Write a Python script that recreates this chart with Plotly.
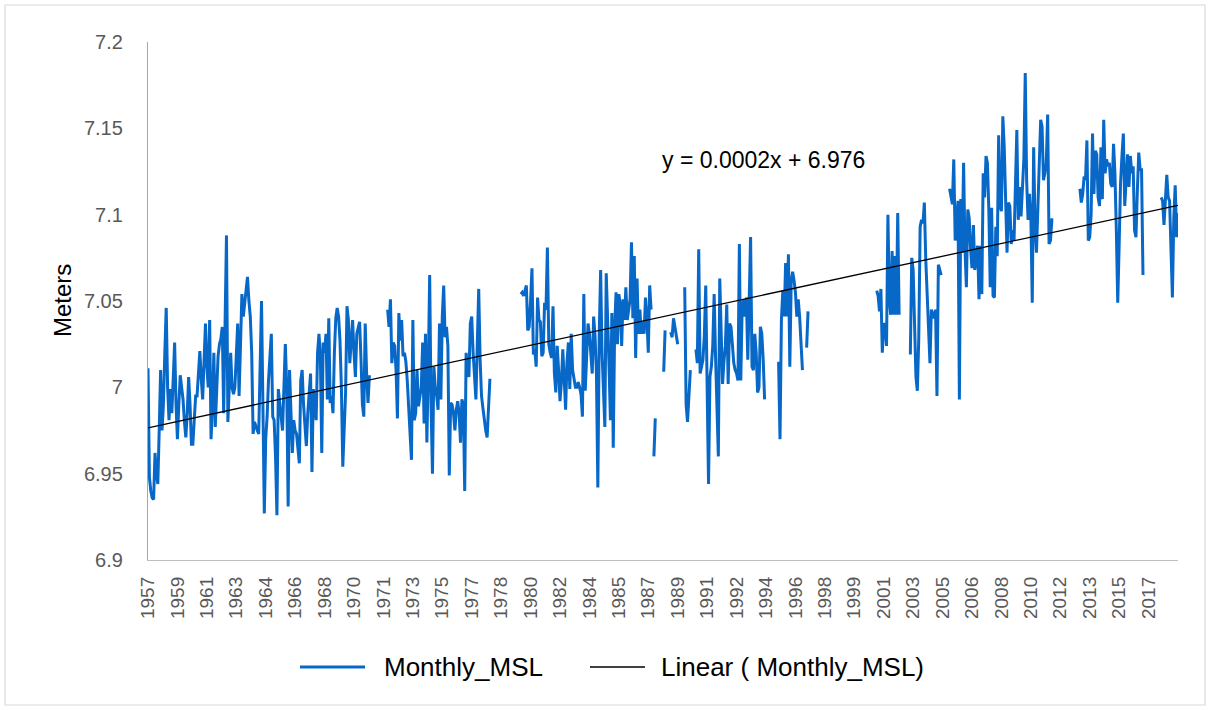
import numpy as np
import plotly.graph_objects as go

N = None
# Monthly mean sea level (m), one value per month starting Oct 1957; None = missing month
msl_a = [  # months 0-119
    7.011, 6.948, 6.940, 6.936, 6.935, 6.962, 6.950, 6.944, 6.975, 7.010, 6.975, 6.990,
    7.020, 7.046, 7.000, 6.981, 6.999, 6.985, 7.005, 7.026, 6.990, 6.970, 6.990, 7.007,
    7.000, 6.993, 6.980, 6.971, 6.985, 7.006, 6.990, 6.967, 6.967, 6.980, 6.995, 6.995,
    7.010, 7.021, 7.005, 6.993, 7.015, 7.037, 7.012, 7.000, 7.039, 6.970, 6.990, 7.020,
    6.977, 7.000, 7.018, 7.025, 7.028, 7.035, 6.985, 7.037, 7.088, 6.980, 7.000, 7.020,
    7.000, 6.996, 7.000, 7.020, 7.037, 6.995, 7.030, 7.054, 7.041, 7.048, 7.056, 7.064,
    7.050, 7.041, 7.020, 6.973, 6.980, 6.977, 6.975, 6.973, 7.010, 7.050, 6.990, 6.927,
    6.970, 6.983, 7.004, 7.020, 7.031, 6.983, 6.981, 6.960, 6.926, 6.999, 6.990, 6.981,
    6.975, 7.000, 7.025, 7.000, 6.931, 7.010, 6.985, 6.962, 6.981, 6.975, 6.973, 6.965,
    6.956, 7.004, 7.010, 6.990, 6.975, 6.966, 6.985, 7.000, 7.008, 6.951, 6.999, 6.990,
]
msl_b = [  # months 120-239
    6.981, 7.020, 7.031, 7.018, 6.962, 7.026, 7.020, 7.031, 6.993, 7.040, 6.991, 6.995,
    6.985, 7.020, 7.040, 7.046, 7.041, 7.027, 7.000, 6.954, 6.980, 6.997, 7.047, 7.039,
    7.014, 7.025, 7.039, 7.020, 7.006, 7.031, 7.035, 7.038, 7.016, 6.990, 6.983, 7.037,
    7.008, 6.991, 7.007, N, N, N, N, N, N, N, N, N,
    N, N, N, 7.045, 7.035, 7.051, 7.014, 7.026, 7.024, 7.010, 6.982, 7.043,
    7.027, 7.039, 7.018, 7.020, 7.015, 7.004, 6.990, 6.975, 6.958, 7.039, 6.981, 6.985,
    7.010, 6.989, 6.995, 7.000, 7.026, 6.979, 7.031, 6.968, 7.010, 7.065, 6.989, 6.950,
    7.012, 7.000, 6.995, 6.987, 7.037, 6.993, 7.041, 7.059, 7.029, 7.035, 7.024, 6.949,
    6.991, 6.990, 6.985, 6.975, 6.987, 6.992, 6.985, 6.968, 6.993, 6.990, 6.940, 7.020,
    7.010, 7.006, 7.037, 7.041, 7.020, 7.004, 6.993, 7.026, 7.057, 7.016, 6.995, 6.988,
]
msl_c = [  # months 240-359
    6.981, 6.975, 6.971, 6.990, 7.005, N, N, N, N, N, N, N,
    N, N, N, N, N, N, N, N, N, N, N, N,
    N, N, 7.054, 7.055, 7.053, 7.056, 7.059, 7.033, 7.035, 7.050, 7.069, 7.019,
    7.022, 7.012, 7.052, 7.039, 7.038, 7.018, 7.020, 7.049, 7.045, 7.081, 7.025, 7.020,
    7.017, 7.047, 7.008, 6.997, 7.024, 7.010, 6.992, 7.003, 7.022, 7.005, 6.987, 7.015,
    7.026, 6.999, 7.031, 7.010, 7.006, 7.000, 7.000, 7.003, 7.000, 6.996, 6.983, 7.054,
    6.998, 7.020, 7.037, 7.031, 7.020, 7.008, 7.041, 7.030, 7.008, 6.942, 7.031, 7.068,
    7.020, 7.000, 6.977, 7.066, 7.030, 7.012, 6.981, 7.043, 6.965, 7.035, 7.055, 7.025,
    7.054, 7.048, 7.024, 7.051, 7.039, 7.058, 7.039, 7.045, 7.051, 7.084, 7.040, 7.076,
    7.017, 7.063, 7.031, 7.045, 7.031, 7.038, 7.031, 7.052, 7.040, 7.020, 7.059, 7.045,
]
msl_d = [  # months 360-479
    N, 6.960, 6.982, N, N, N, N, N, 7.009, 7.033, N, N,
    N, 7.032, 7.029, 7.040, 7.035, 7.028, 7.025, N, N, N, N, 7.058,
    6.990, 6.980, 6.995, 7.010, N, N, N, 7.022, 7.014, 7.080, 7.008, 7.012,
    7.016, 7.030, 7.059, 7.000, 6.944, 7.006, 7.012, 7.024, 7.054, 7.018, 6.990, 6.960,
    7.063, 7.031, 7.002, 7.015, 7.024, 7.048, 7.002, 7.037, 7.035, 7.025, 7.014, 7.010,
    7.008, 7.004, 7.083, 7.004, 7.047, 7.051, 7.041, 7.052, 7.016, 7.050, 7.087, 7.012,
    7.010, 7.031, 7.020, 6.997, 7.000, 7.035, 7.031, 7.016, 6.993, N, N, N,
    N, N, N, N, N, 7.014, 7.014, 6.970, 7.039, 7.056, 7.041, 7.072,
    7.041, 7.077, 7.012, 7.062, 7.067, 7.062, 7.055, 7.041, 7.051, 7.041, 7.025, 7.010,
    N, N, 7.023, 7.044, N, N, N, N, N, N, N, N,
]
msl_e = [  # months 480-599
    N, N, N, N, N, N, N, N, N, N, N, N,
    N, N, N, N, N, N, N, N, N, N, N, N,
    N, N, N, N, N, N, N, N, N, N, N, N,
    N, N, N, N, 7.056, 7.053, 7.044, 7.057, 7.020, 7.037, 7.036, 7.024,
    7.100, 7.051, 7.042, 7.079, 7.042, 7.076, 7.042, 7.101, 7.042, N, N, N,
    N, N, N, N, 7.019, 7.075, 7.068, 7.035, 7.006, 6.998, 7.028, 7.093,
    7.097, 7.095, 7.107, 7.074, 7.056, 7.037, 7.014, 7.045, 7.043, 7.040, 7.045, 6.995,
    7.071, 7.068, 7.065, N, N, N, N, N, 7.115, 7.110, 7.106, 7.132,
    7.085, 7.095, 7.108, 6.993, 7.109, 7.078, 7.130, 7.080, 7.058, 7.103, 7.098, 7.080,
    7.069, 7.094, 7.068, 7.075, 7.082, 7.051, 7.082, 7.054, 7.124, 7.110, 7.134, 7.130,
]
msl_f = [  # months 600-735
    7.103, 7.058, 7.104, 7.053, 7.052, 7.093, 7.076, 7.146, 7.105, 7.102, 7.157, 7.139,
    7.107, 7.078, 7.107, 7.105, 7.083, 7.091, 7.085, 7.120, 7.149, 7.097, 7.116, 7.099,
    7.116, 7.132, 7.182, 7.120, 7.097, 7.112, 7.099, 7.049, 7.139, 7.093, 7.078, 7.107,
    7.138, 7.155, 7.151, 7.120, 7.124, 7.130, 7.158, 7.083, 7.085, 7.097, 7.097, N,
    N, N, N, N, N, N, N, N, N, N, N, N,
    N, N, N, N, N, 7.115, 7.107, 7.112, 7.122, 7.120, 7.143, 7.085,
    7.087, 7.100, 7.147, 7.112, 7.137, 7.135, 7.110, 7.105, 7.139, 7.109, 7.155, 7.124,
    7.132, 7.128, 7.130, 7.118, 7.116, 7.141, 7.124, 7.091, 7.049, 7.082, 7.118, 7.134,
    7.147, 7.105, 7.118, 7.135, 7.116, 7.134, 7.124, 7.128, 7.091, 7.087, 7.114, 7.136,
    7.126, 7.126, 7.065, N, N, N, N, N, N, N, N, N,
    N, N, N, 7.110, 7.108, 7.094, 7.110, 7.123, 7.110, 7.108, 7.080, 7.052,
    7.098, 7.117, 7.087, 7.101,
]

year_labels = ["1957", "1959", "1961", "1963", "1964", "1966", "1968", "1970", "1971",
               "1973", "1975", "1977", "1978", "1980", "1982", "1984", "1985", "1987",
               "1989", "1991", "1992", "1994", "1996", "1998", "1999", "2001", "2003",
               "2005", "2006", "2008", "2010", "2012", "2013", "2015", "2017"]
label_step = 21  # months between category labels
y_ticks = [6.9, 6.95, 7.0, 7.05, 7.1, 7.15, 7.2]
y_tick_text = ["6.9", "6.95", "7", "7.05", "7.1", "7.15", "7.2"]
equation_text = "y = 0.0002x + 6.976"

msl = msl_a + msl_b + msl_c + msl_d + msl_e + msl_f
n = len(msl)
xs = list(range(n))

# Linear trend (Excel style, x = 1..n over available months)
xv = np.array([i + 1 for i, v in enumerate(msl) if v is not None], dtype=float)
yv = np.array([v for v in msl if v is not None], dtype=float)
slope, intercept = np.polyfit(xv, yv, 1)
trend_x = [0, n - 1]
trend_y = [slope * (x + 1) + intercept for x in trend_x]

BLUE = "#0868C8"
GREY_TXT = "#595959"
FONT = "Liberation Sans"

fig = go.Figure()
fig.add_trace(go.Scatter(x=xs, y=msl, mode="lines", name="Monthly_MSL",
                         line=dict(color=BLUE, width=3), connectgaps=False))
fig.add_trace(go.Scatter(x=trend_x, y=trend_y, mode="lines", name="Linear ( Monthly_MSL)",
                         line=dict(color="#000000", width=1.3)))

fig.update_xaxes(range=[0, n - 1], tickmode="array",
                 tickvals=[k * label_step for k in range(len(year_labels))],
                 ticktext=year_labels, tickangle=-90,
                 tickfont=dict(family=FONT, size=19, color=GREY_TXT),
                 showline=True, linecolor="#bfbfbf", linewidth=1.3,
                 showgrid=False, zeroline=False, ticks="", ticklabelstandoff=8)
fig.update_yaxes(range=[6.9, 7.2], tickmode="array", tickvals=y_ticks, ticktext=y_tick_text,
                 tickfont=dict(family=FONT, size=20, color=GREY_TXT),
                 showline=True, linecolor="#a6a6a6", linewidth=1.3,
                 showgrid=False, zeroline=False, ticks="", ticklabelstandoff=20)

W, L, R, T, B, H = 1211, 148, 33, 42, 150, 710
pw = W - L - R
ph = H - T - B

def px_x(p):
    return (p - L) / pw

def px_y(p):
    return (H - B - p) / ph

shapes = [
    dict(type="rect", xref="paper", yref="paper",
         x0=px_x(5), x1=px_x(1205), y0=px_y(5), y1=px_y(705),
         line=dict(color="#d9d9d9", width=1.2), fillcolor="rgba(0,0,0,0)", layer="below"),
    dict(type="line", xref="paper", yref="paper", x0=px_x(300), x1=px_x(365),
         y0=px_y(667), y1=px_y(667), line=dict(color=BLUE, width=3)),
    dict(type="line", xref="paper", yref="paper", x0=px_x(590), x1=px_x(645),
         y0=px_y(667), y1=px_y(667), line=dict(color="#000000", width=1.3)),
]
annotations = [
    dict(text="Meters", xref="paper", yref="paper", x=px_x(62), y=0.5, textangle=-90,
         xanchor="center", yanchor="middle",
         showarrow=False, font=dict(family=FONT, size=24, color="#000000")),
    dict(text=equation_text, xref="paper", yref="paper", x=px_x(660), y=px_y(160),
         xanchor="left", yanchor="middle", showarrow=False,
         font=dict(family=FONT, size=23, color="#000000")),
    dict(text="Monthly_MSL", xref="paper", yref="paper", x=px_x(382), y=px_y(667),
         xanchor="left", yanchor="middle", showarrow=False,
         font=dict(family=FONT, size=26, color="#000000")),
    dict(text="Linear ( Monthly_MSL)", xref="paper", yref="paper", x=px_x(659), y=px_y(667),
         xanchor="left", yanchor="middle", showarrow=False,
         font=dict(family=FONT, size=26, color="#000000")),
]

fig.update_layout(width=W, height=H, margin=dict(l=L, r=R, t=T, b=B, pad=0),
                  paper_bgcolor="white", plot_bgcolor="white", showlegend=False,
                  font=dict(family=FONT), shapes=shapes, annotations=annotations)

fig.write_html("out.html", config={"displayModeBar": False},
               post_script="document.body.style.margin='0';")
